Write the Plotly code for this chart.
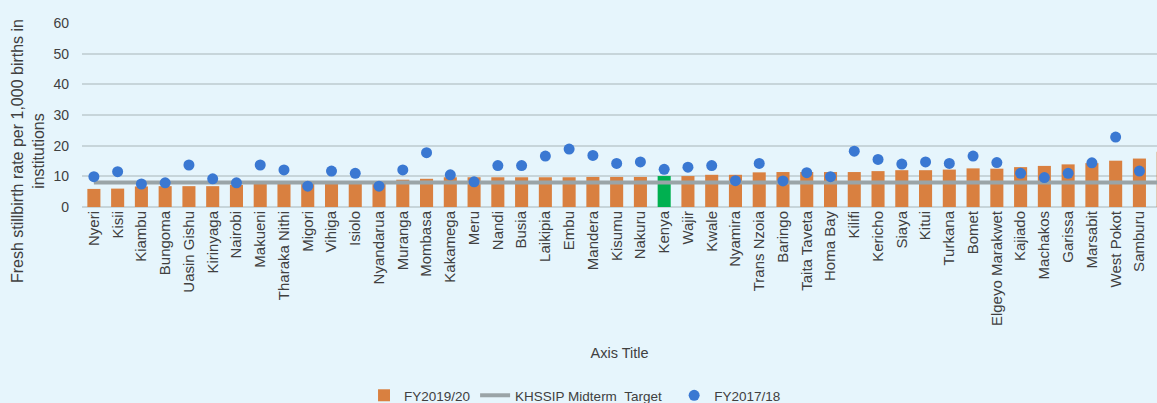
import plotly.graph_objects as go

counties = ["Nyeri", "Kisii", "Kiambu", "Bungoma", "Uasin Gishu", "Kirinyaga", "Nairobi",
            "Makueni", "Tharaka Nithi", "Migori", "Vihiga", "Isiolo", "Nyandarua", "Muranga",
            "Mombasa", "Kakamega", "Meru", "Nandi", "Busia", "Laikipia", "Embu", "Mandera",
            "Kisumu", "Nakuru", "Kenya", "Wajir", "Kwale", "Nyamira", "Trans Nzoia", "Baringo",
            "Taita Taveta", "Homa Bay", "Kilifi", "Kericho", "Siaya", "Kitui", "Turkana", "Bomet",
            "Elgeyo Marakwet", "Kajiado", "Machakos", "Garissa", "Marsabit", "West Pokot",
            "Samburu", "Lamu"]

fy2019_20 = [5.9, 6.0, 6.7, 6.8, 6.8, 6.8, 7.2, 7.5, 7.6, 7.7, 7.8, 7.8, 7.8, 8.9,
             9.2, 9.7, 9.7, 9.7, 9.7, 9.7, 9.7, 9.8, 9.8, 9.8, 10.1, 10.1, 10.5, 10.5,
             11.3, 11.4, 11.4, 11.4, 11.4, 11.7, 12.0, 12.0, 12.2, 12.6, 12.5, 13.0,
             13.4, 13.9, 14.3, 15.1, 15.8, 18.0]

fy2017_18 = [9.9, 11.5, 7.5, 7.9, 13.7, 9.2, 7.9, 13.7, 12.1, 6.8, 11.7, 11.0, 6.8, 12.1,
             17.7, 10.5, 8.2, 13.5, 13.5, 16.6, 18.9, 16.8, 14.2, 14.7, 12.3, 13.0, 13.5, 8.6,
             14.2, 8.5, 11.2, 9.9, 18.2, 15.5, 14.0, 14.7, 14.2, 16.6, 14.5, 11.0,
             9.6, 11.0, 14.4, 22.8, 11.7, None]

target = 8.0
highlight = "Kenya"
y_title = "Fresh stillbirth rate per 1,000 births in<br>institutions"

bar_colors = ["#00B050" if c == highlight else "#D98040" for c in counties]

fig = go.Figure()
fig.add_trace(go.Bar(
    x=counties, y=fy2019_20, name="FY2019/20",
    marker=dict(color=bar_colors, line=dict(width=0)),
    width=0.55,
))
fig.add_trace(go.Scatter(
    x=counties, y=[target] * len(counties), name="KHSSIP Midterm\u00a0 Target\u00a0\u00a0",
    mode="lines", line=dict(color="#9AA4A7", width=4),
))
fig.add_trace(go.Scatter(
    x=counties, y=fy2017_18, name="FY2017/18",
    mode="markers", marker=dict(color="#3A78D2", size=11),
))

font_family = "Liberation Sans, Arial, sans-serif"

fig.update_layout(
    width=1157, height=411,
    margin=dict(l=82, r=0, t=23, b=204),
    paper_bgcolor="#E6F5FC", plot_bgcolor="#E6F5FC",
    font=dict(family=font_family, size=13, color="#404040"),
    showlegend=True,
    legend=dict(orientation="h", xref="container", yref="container",
                x=0.497, xanchor="center", y=0.0, yanchor="bottom",
                font=dict(size=13.5, color="#404040"), traceorder="normal",
                itemwidth=30, bgcolor="rgba(0,0,0,0)"),
    annotations=[dict(
        text=y_title, textangle=-90, xref="paper", yref="paper",
        x=-0.0502, y=0.304, xanchor="center", yanchor="middle", showarrow=False,
        font=dict(size=16, color="#404040"), align="center",
    )],
)
fig.update_xaxes(
    type="category", range=[-0.5, 44.74], tickangle=-90,
    showgrid=False, showline=False, ticks="",
    tickfont=dict(size=15, color="#404040"),
    title=dict(text="Axis Title", font=dict(size=14.5, color="#404040"), standoff=22),
    automargin=False,
)
fig.update_yaxes(
    range=[0, 60], dtick=10, showgrid=True, gridcolor="#C7D5DA", gridwidth=2,
    zeroline=True, zerolinecolor="#C7D5DA", zerolinewidth=2,
    showline=False, ticks="", ticklabelstandoff=12,
    tickfont=dict(size=14, color="#404040"),
    automargin=False,
)

fig.write_html(
    "out.html", config={"displayModeBar": False},
    post_script=("document.body.style.margin='0';"
                 "document.body.style.overflow='hidden';"
                 "document.documentElement.style.overflow='hidden';"),
)
